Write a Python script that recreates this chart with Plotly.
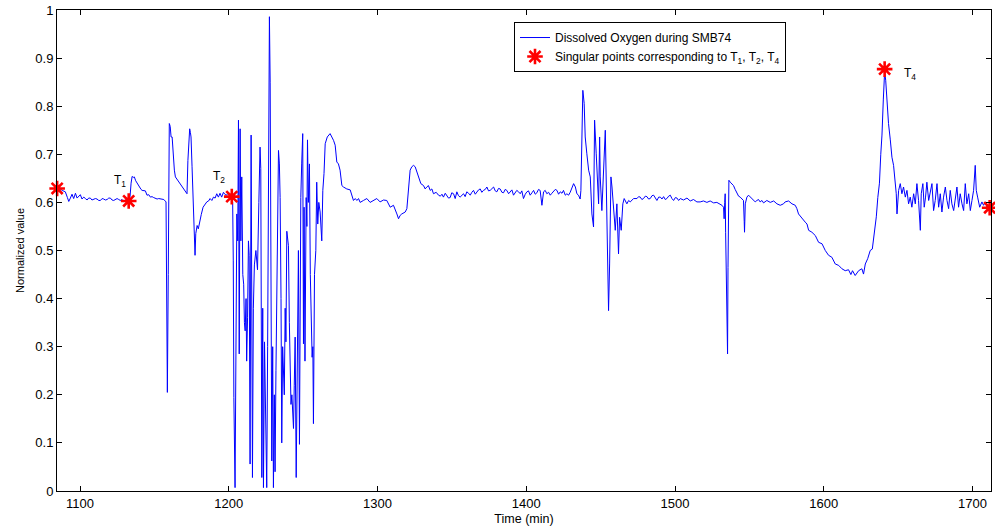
import plotly.graph_objects as go

# ---- data (time in min, normalized dissolved oxygen) ----
seg_start = [(1084.5,0.628),(1086,0.630),(1088,0.625),(1090.1,0.622),(1091.5,0.610),(1092.4,0.602),(1093.5,0.609),
    (1094.6,0.617),(1095.7,0.608),(1096.9,0.619),(1098,0.609),(1099.1,0.612),(1100.2,0.616),(1101.3,0.607),(1102.5,0.611),
    (1103.6,0.608),(1104.7,0.605),(1105.8,0.609),(1106.9,0.609),(1108,0.605),(1109.2,0.606),(1110.3,0.608),(1111.4,0.607),
    (1112.6,0.604),(1113.7,0.604),(1114.8,0.608),(1115.9,0.607),(1117,0.605),(1118.2,0.606),(1119.3,0.609),(1120.4,0.609),
    (1121.5,0.605),(1122.6,0.604),(1123.8,0.607),(1124.9,0.608),(1126,0.606),(1127.1,0.604),(1128.3,0.606),(1129.4,0.602),
    (1130.5,0.605),(1131.6,0.606),(1132.7,0.603),(1133.6,0.612),(1134.3,0.640),(1135,0.654),(1135.8,0.652),(1136.5,0.653),
    (1137.4,0.645),(1138.3,0.640),(1139.2,0.636),(1140.1,0.630),(1141,0.627),(1141.7,0.625),(1142.8,0.624),(1143.9,0.624),
    (1145,0.615),(1146.2,0.616),(1147.3,0.611),(1148.4,0.612),(1149.5,0.610),(1150.7,0.609),(1151.8,0.607),(1152.9,0.608),
    (1154,0.607),(1155.2,0.606),(1156.3,0.606),(1157.8,0.601)]

seg_peaks = [(1158.3,0.430),(1158.7,0.205),(1159.3,0.450),(1160.0,0.764),(1160.6,0.758),(1161.2,0.736),(1161.9,0.736),
    (1162.6,0.700),(1163.4,0.667),(1164.1,0.653),(1165.2,0.648),(1166.4,0.643),(1167.5,0.638),(1168.6,0.632),(1169.7,0.628),
    (1170.8,0.624),(1171.9,0.618),(1172.5,0.687),(1173.7,0.753),(1174.2,0.745),(1174.6,0.736),(1175.3,0.674),(1176.0,0.590),
    (1176.9,0.528),(1177.3,0.490),(1177.8,0.535),(1178.7,0.552),(1179.5,0.545),(1180.4,0.563),(1181.5,0.575),(1182.7,0.590),
    (1184.3,0.597),(1185.2,0.601),(1186.4,0.603),(1187.4,0.608),(1188.6,0.604),(1189.7,0.611),(1190.8,0.609),(1191.9,0.618),
    (1193,0.611),(1194.1,0.619),(1195.2,0.611),(1196.4,0.621),(1197.3,0.617),(1198.2,0.615),(1199.7,0.619),(1200.9,0.611),
    (1202.0,0.612)]

seg_dense = [(1202.6,0.600),(1203.0,0.480),(1203.4,0.194),(1204.2,0.007),(1204.8,0.300),(1205.4,0.576),(1206.0,0.520),
    (1206.5,0.771),(1207.0,0.285),(1207.6,0.753),(1208.1,0.52),(1208.7,0.653),(1209.4,0.45),(1210.0,0.43),(1210.5,0.35),
    (1211.0,0.333),(1211.6,0.40),(1212.0,0.27),(1212.6,0.36),(1213.2,0.52),(1213.7,0.49),(1214.3,0.056),(1215.0,0.74),
    (1215.9,0.028),(1216.5,0.38),(1217.2,0.47),(1218.2,0.50),(1219.3,0.46),(1220.2,0.60),(1221.0,0.715),(1221.5,0.67),
    (1222.2,0.028),(1222.8,0.38),(1223.3,0.007),(1224.0,0.31),(1224.6,0.16),(1225.5,0.007),(1226.1,0.30),(1226.7,0.58),
    (1227.3,0.986),(1227.8,0.85),(1228.2,0.58),(1228.9,0.0625),(1229.5,0.30),(1230.0,0.007),(1230.6,0.20),(1231.1,0.04),
    (1231.7,0.25),(1232.3,0.40),(1232.8,0.55),(1233.4,0.708),(1234.0,0.68),(1234.5,0.61),(1235.1,0.40),(1235.6,0.10),
    (1236.2,0.30),(1236.7,0.236),(1237.3,0.20),(1237.9,0.38),(1238.4,0.31),(1239.0,0.54),(1239.6,0.52),(1240.1,0.51),
    (1240.7,0.35),(1241.2,0.236),(1241.8,0.18),(1242.4,0.20),(1243.0,0.17),(1243.5,0.13),(1244.0,0.22),(1244.6,0.32),
    (1245.3,0.028),(1245.9,0.30),(1246.8,0.50),(1247.5,0.097),(1248.0,0.40),(1248.4,0.61),(1249.0,0.68),(1249.7,0.743),
    (1250.2,0.306),(1250.6,0.59),(1251.2,0.27),(1251.6,0.44),(1252.0,0.61),(1252.5,0.55),(1252.9,0.73),(1253.5,0.60),
    (1254.2,0.68),(1254.8,0.45),(1255.3,0.39),(1256.0,0.278),(1256.5,0.30),(1256.9,0.14),(1257.6,0.45),(1258.5,0.50),
    (1259.1,0.642),(1259.8,0.555),(1260.5,0.60),(1261.4,0.58),(1262.5,0.52),(1263.2,0.625),(1264.0,0.66),(1264.8,0.722),
    (1266.2,0.736),(1268.1,0.743)]

seg_recover = [(1270.4,0.729),(1271.5,0.719),(1272.6,0.684),(1273.7,0.680),(1274.8,0.667),(1276.0,0.635),(1277.1,0.632),
    (1279.3,0.628),(1281.6,0.626),(1282.7,0.615),(1283.8,0.604),(1285.0,0.608),(1286.1,0.604),(1287.2,0.608),(1288.3,0.600),
    (1290.5,0.604),(1292.8,0.608),(1295.0,0.600),(1297.3,0.604),(1299.5,0.608),(1301.7,0.601),(1304.0,0.605),(1306.2,0.604),
    (1307.3,0.597),(1308.5,0.590),(1310.7,0.594),(1311.8,0.583),(1313.0,0.576),(1314.1,0.566),(1315.2,0.573),(1316.3,0.576),
    (1318.6,0.580),(1319.7,0.587),(1320.8,0.632),(1321.9,0.667),(1323.0,0.674),(1324.2,0.677),(1325.3,0.674),(1326.0,0.667),
    (1326.9,0.656),(1328.2,0.646),(1329.1,0.639),(1330.9,0.635),(1332.0,0.628),(1333.1,0.632),(1334.2,0.635),(1335.4,0.625),
    (1336.5,0.628),(1337.6,0.618),(1339.4,0.621),(1341.0,0.615)]

seg_flat = [(1342.2,0.613),(1343.3,0.617),(1344.3,0.611),(1345.5,0.619),(1346.6,0.615),(1347.7,0.609),(1348.8,0.610),
    (1349.9,0.620),(1351.1,0.618),(1352.2,0.608),(1353.3,0.622),(1354.4,0.614),(1355.5,0.611),(1356.7,0.616),(1357.8,0.618),
    (1358.9,0.612),(1360.0,0.622),(1361.2,0.619),(1362.3,0.615),(1363.4,0.621),(1364.5,0.625),(1365.7,0.617),(1366.8,0.622),
    (1367.9,0.626),(1369.0,0.628),(1370.1,0.621),(1371.2,0.625),(1372.4,0.627),(1373.5,0.632),(1374.6,0.624),(1375.7,0.625),
    (1376.9,0.629),(1378.0,0.632),(1379.1,0.624),(1380.2,0.622),(1381.3,0.629),(1382.4,0.628),(1383.6,0.621),(1384.7,0.620),
    (1385.8,0.627),(1386.9,0.625),(1388.1,0.618),(1389.2,0.622),(1390.3,0.626),(1391.4,0.615),(1392.5,0.620),(1393.6,0.625),
    (1394.8,0.622),(1395.9,0.618),(1397.0,0.624),(1398.1,0.608),(1399.3,0.617),(1400.4,0.622),(1401.5,0.624),(1402.6,0.615),
    (1403.8,0.620),(1404.9,0.625),(1406.0,0.617),(1407.1,0.620),(1408.2,0.627),(1409.3,0.625),(1410.5,0.594),(1411.6,0.622),
    (1412.7,0.625),(1413.8,0.618),(1415.0,0.621),(1416.1,0.615),(1417.2,0.619),(1418.3,0.622),(1419.5,0.627),(1420.6,0.625),
    (1421.7,0.617),(1422.8,0.622),(1424.0,0.619),(1425.0,0.625),(1426.2,0.615),(1427.3,0.618),(1428.4,0.615),(1429.5,0.621),
    (1430.6,0.632)]

seg_burst = [(1431.8,0.639),(1433.0,0.632),(1434.0,0.618),(1435.1,0.615),(1436.2,0.607),(1436.7,0.625),(1437.4,0.736),
    (1438.0,0.833),(1438.9,0.806),(1439.6,0.736),(1440.7,0.701),(1441.9,0.667),(1443.0,0.653),(1444.1,0.576),(1445.2,0.549),
    (1445.9,0.771),(1447.0,0.701),(1447.9,0.632),(1448.6,0.597),(1449.3,0.736),(1449.7,0.653),(1450.8,0.583),(1452.0,0.674),
    (1453.1,0.750),(1453.8,0.632),(1454.6,0.479),(1455.3,0.375),(1456.0,0.472),(1456.9,0.653),(1457.6,0.632),(1458.7,0.576),
    (1459.8,0.542),(1460.9,0.597),(1462.0,0.493),(1462.7,0.569),(1463.8,0.542),(1464.9,0.597),(1465.8,0.608),(1467.6,0.597),
    (1468.8,0.604),(1469.9,0.601),(1472.1,0.608)]

seg_plateau = [(1474.4,0.608),(1475.5,0.612),(1476.6,0.611),(1477.7,0.606),(1478.8,0.608),(1480.0,0.613),(1481.1,0.612),
    (1482.2,0.607),(1483.3,0.608),(1484.5,0.614),(1485.6,0.615),(1486.7,0.609),(1487.8,0.604),(1489.0,0.611),(1490.1,0.611),
    (1491.2,0.607),(1492.3,0.612),(1493.4,0.606),(1494.5,0.608),(1495.7,0.613),(1496.8,0.615),(1497.9,0.608),(1499.0,0.604),
    (1500.2,0.610),(1501.3,0.609),(1502.4,0.604),(1503.5,0.608),(1505.7,0.605),(1508.0,0.609),(1510.2,0.603),(1512.4,0.606),
    (1514.7,0.601),(1516.9,0.601),(1519.1,0.603),(1521.4,0.600),(1523.6,0.603),(1525.9,0.599),(1528.1,0.600),(1530.4,0.597)]

seg_dip = [(1531.5,0.594),(1532.6,0.590),(1533.0,0.566),(1533.4,0.600),(1533.7,0.618),(1534.0,0.538),(1534.3,0.465),
    (1534.8,0.368),(1535.3,0.285),(1535.6,0.465),(1536.2,0.646),(1537.1,0.642),(1538.2,0.639),(1539.3,0.635),(1540.4,0.627),
    (1541.6,0.618),(1542.7,0.613),(1543.8,0.611),(1544.9,0.608),(1546.0,0.604),(1546.5,0.560),(1546.7,0.538),(1547.2,0.597),
    (1548.3,0.611),(1549.4,0.615),(1550.5,0.611),(1551.6,0.608),(1552.8,0.604),(1553.9,0.601),(1555.0,0.604),(1556.1,0.606),
    (1557.2,0.601),(1558.4,0.604),(1559.5,0.599),(1561.7,0.604),(1564.0,0.600),(1566.3,0.603),(1568.5,0.597),(1570.7,0.594),
    (1572.9,0.597),(1574.0,0.601),(1576.3,0.603),(1578.6,0.597),(1580.8,0.594),(1581.9,0.587),(1583.0,0.576),(1585.3,0.566),
    (1587.5,0.559),(1588.7,0.555),(1589.8,0.542),(1592.0,0.538),(1594.3,0.531),(1595.4,0.524),(1596.5,0.517),(1598.8,0.514),
    (1601.0,0.500),(1603.2,0.490),(1605.4,0.486),(1607.7,0.472),(1610.0,0.469),(1612.2,0.462),(1614.4,0.458),(1616.6,0.460),
    (1618.2,0.450),(1619.3,0.458),(1621.1,0.448),(1623.4,0.458),(1625.6,0.462),(1626.7,0.451),(1627.9,0.472),(1629.5,0.483),
    (1631.2,0.500),(1632.6,0.503),(1633.9,0.535),(1635.3,0.570),(1636.3,0.610),(1637.4,0.640),(1638.3,0.700),(1639.1,0.740),
    (1640.0,0.813),(1640.9,0.872),(1641.6,0.854),(1642.4,0.813),(1643.5,0.764),(1644.7,0.730),(1645.8,0.694),(1646.9,0.677),
    (1648.0,0.646),(1648.7,0.618),(1649.2,0.576),(1650.3,0.625),(1651.4,0.639)]

seg_tail = [(1652.5,0.618),(1653.6,0.632),(1654.8,0.611),(1655.9,0.625),(1657.0,0.597),(1658.1,0.611),(1659.2,0.590),
    (1660.4,0.618),(1661.5,0.597),(1662.6,0.639),(1663.7,0.604),(1664.9,0.542),(1665.5,0.618),(1666.6,0.639),(1667.5,0.590),
    (1668.4,0.611),(1669.3,0.642),(1670.5,0.604),(1671.6,0.625),(1672.7,0.639),(1673.8,0.583),(1674.9,0.604),(1676.1,0.639),
    (1677.2,0.590),(1678.3,0.618),(1679.4,0.580),(1680.5,0.611),(1681.7,0.632),(1682.8,0.604),(1683.9,0.587),(1685.0,0.625),
    (1686.1,0.597),(1687.3,0.583),(1688.4,0.611),(1689.5,0.632),(1690.6,0.590),(1691.7,0.618),(1692.9,0.597),(1694.0,0.583),
    (1695.1,0.639),(1696.2,0.597),(1697.4,0.618),(1698.5,0.583),(1699.6,0.604),(1700.7,0.625),(1701.8,0.677),(1702.5,0.625),
    (1703.4,0.611),(1704.8,0.590),(1706.3,0.601),(1707.4,0.594),(1708.6,0.601),(1709.7,0.590),(1711.5,0.589),(1712.3,0.595)]

singular_time = [1084.6, 1132.7, 1202.0, 1640.9, 1711.5]
singular_value = [0.629, 0.603, 0.612, 0.877, 0.589]

label_text = ["T<sub>1</sub>", "T<sub>2</sub>", "T<sub>4</sub>"]
label_time = [1126.9, 1193.5, 1658.2]
label_value = [0.645, 0.652, 0.867]

x_ticks = [1100, 1200, 1300, 1400, 1500, 1600, 1700]
y_ticks = [0, 0.1, 0.2, 0.3, 0.4, 0.5, 0.6, 0.7, 0.8, 0.9, 1]
y_tick_text = ["0", "0.1", "0.2", "0.3", "0.4", "0.5", "0.6", "0.7", "0.8", "0.9", "1"]

segments = [seg_start, seg_peaks, seg_dense, seg_recover, seg_flat, seg_burst, seg_plateau, seg_dip, seg_tail]
time_min = [p[0] for s in segments for p in s]
do_value = [p[1] for s in segments for p in s]

FONT = "Liberation Sans, Arial, sans-serif"

fig = go.Figure()
fig.add_trace(go.Scatter(
    x=time_min, y=do_value, mode="lines",
    name="Dissolved Oxygen during SMB74",
    line=dict(color="#0000ff", width=1),
))
fig.add_trace(go.Scatter(
    x=singular_time, y=singular_value, mode="markers",
    name="Singular points corresponding to T<sub>1</sub>, T<sub>2</sub>, T<sub>4</sub>",
    marker=dict(symbol="asterisk-open", size=13, color="#ff0000",
                line=dict(color="#ff0000", width=2.6)),
    cliponaxis=False,
))

for txt, tx, ty in zip(label_text, label_time, label_value):
    fig.add_annotation(x=tx, y=ty, text=txt, showarrow=False,
                       font=dict(family=FONT, size=12, color="black"))

axis_common = dict(
    showline=True, linecolor="black", linewidth=1, mirror="ticks",
    ticks="inside", ticklen=5, tickcolor="black", tickwidth=1,
    showgrid=False, zeroline=False,
    tickfont=dict(family=FONT, size=13, color="black"),
)

fig.update_xaxes(range=[1084.5, 1712.4], tickvals=x_ticks,
                 title=dict(text="Time (min)", font=dict(family=FONT, size=12.5, color="black"), standoff=4),
                 **axis_common)
fig.update_yaxes(range=[0, 1], tickvals=y_ticks, ticktext=y_tick_text,
                 title=dict(text="Normalized value", font=dict(family=FONT, size=11, color="black"), standoff=8),
                 **axis_common)

fig.update_layout(
    width=995, height=531,
    margin=dict(l=57, r=4, t=10, b=40, autoexpand=False),
    paper_bgcolor="white", plot_bgcolor="white",
    font=dict(family=FONT, size=11, color="black"),
    legend=dict(x=0.4893, y=0.975, xanchor="left", yanchor="top",
                bgcolor="white", bordercolor="black", borderwidth=1,
                font=dict(family=FONT, size=12, color="black"),
                itemwidth=30, tracegroupgap=0),
)

fig.write_html("out.html")
